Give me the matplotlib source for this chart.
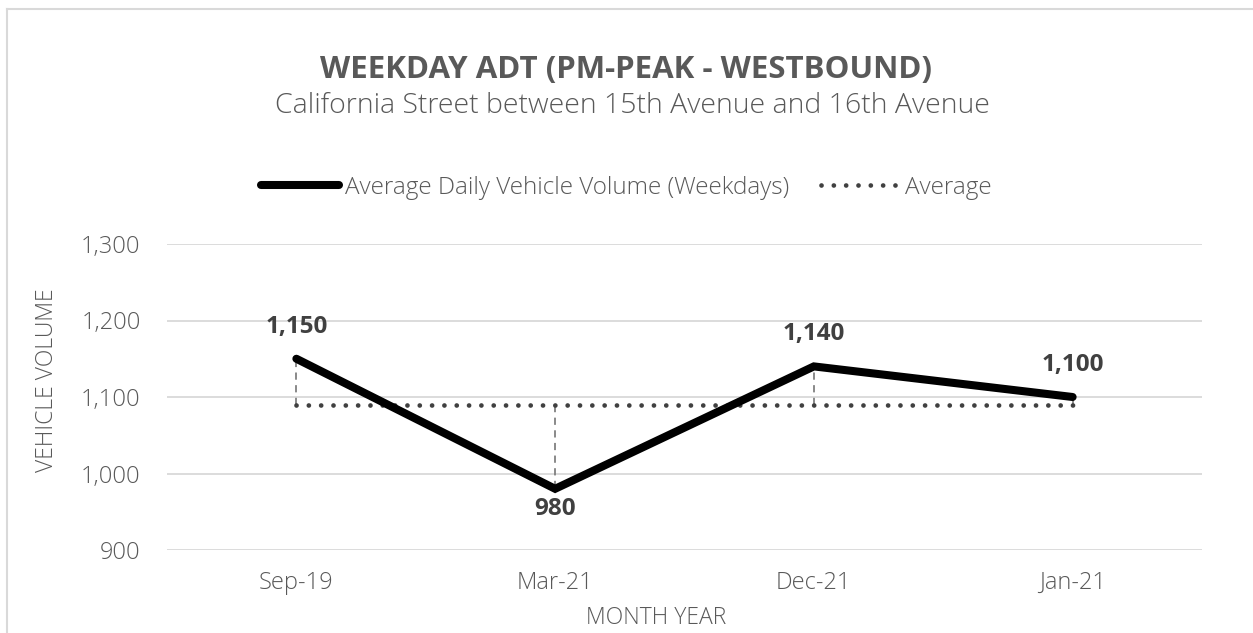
import matplotlib
matplotlib.use("Agg")
import matplotlib.pyplot as plt
from matplotlib.lines import Line2D

categories = ["Sep-19", "Mar-21", "Dec-21", "Jan-21"]
volumes = [1150, 980, 1140, 1100]
average_value = 1090
yticks = [900, 1000, 1100, 1200, 1300]

TXT = "#595959"
plt.rcParams['font.family'] = ['Open Sans', 'DejaVu Sans']
plt.rcParams['font.weight'] = 'light'

fig = plt.figure(figsize=(12.53, 6.33), dpi=100)
ax = fig.add_axes([167/1253, 1-550/633, (1202-167)/1253, (550-244)/633])

x = list(range(len(categories)))
avg = [average_value] * len(categories)

ax.set_ylim(900, 1300)
ax.set_xlim(-0.5, len(categories) - 0.5)
ax.set_yticks(yticks)
ax.set_yticklabels([f"{v:,}" for v in yticks])
ax.grid(axis='y', color='#d9d9d9', linewidth=1.3)
ax.set_axisbelow(True)
for s in ax.spines.values():
    s.set_visible(False)
ax.tick_params(axis='both', length=0, labelsize=17, colors=TXT)
ax.tick_params(axis='y', pad=19)
ax.tick_params(axis='x', pad=15)
ax.set_xticks(x)
ax.set_xticklabels(categories)

# drop lines (value to average)
for xi, v, a in zip(x, volumes, avg):
    ax.plot([xi, xi], [a, v], color='#808080', linestyle=(0, (4, 3)), linewidth=1.3, zorder=2)

ax.plot(x, avg, color='#404040', linewidth=3.4, linestyle=(0, (0.01, 2.6)),
        dash_capstyle='round', zorder=3)
ax.plot(x, volumes, color='black', linewidth=5.8, solid_capstyle='round',
        solid_joinstyle='miter', zorder=4)

for xi, v in zip(x, volumes):
    off = -20 if v < average_value else 32
    ax.annotate(f"{v:,}", (xi, v), xytext=(0, off), textcoords='offset pixels',
                ha='center', va='center', fontsize=17.5, fontweight='bold', color='#404040')

ax.set_xlabel("MONTH YEAR", fontsize=16.5, color=TXT, va='center', fontweight='light')
ax.xaxis.set_label_coords(0.473, -0.222)
ax.set_ylabel("VEHICLE VOLUME", fontsize=16.5, color=TXT, va='center', fontweight='light')
ax.yaxis.set_label_coords(-0.116, 0.555)

fig.text(0.5, 1-70/633, "WEEKDAY ADT (PM-PEAK - WESTBOUND)", ha='center', va='center',
         fontsize=22.5, fontweight='bold', color=TXT)
fig.text(0.505, 1-106/633, "California Street between 15th Avenue and 16th Avenue",
         ha='center', va='center', fontsize=20.5, color=TXT)

handles = [Line2D([], [], color='black', linewidth=5.8, solid_capstyle='round'),
           Line2D([], [], color='#404040', linewidth=3.4, linestyle=(0, (0.01, 2.6)),
                  dash_capstyle='round')]
fig.legend(handles, ["Average Daily Vehicle Volume (Weekdays)", "Average"],
           loc='center', bbox_to_anchor=(0.5, 1-188/633), ncol=2, frameon=False,
           fontsize=17.5, labelcolor=TXT, handlelength=3.2, handletextpad=0.25,
           columnspacing=1.3)

# chart frame
fig.add_artist(Line2D([7/1253, 7/1253], [0, 1-9/633], color='#d9d9d9', linewidth=1.5,
                      transform=fig.transFigure))
fig.add_artist(Line2D([7/1253, 1], [1-9/633, 1-9/633], color='#d9d9d9', linewidth=1.5,
                      transform=fig.transFigure))

fig.savefig("out.png", dpi=100)
